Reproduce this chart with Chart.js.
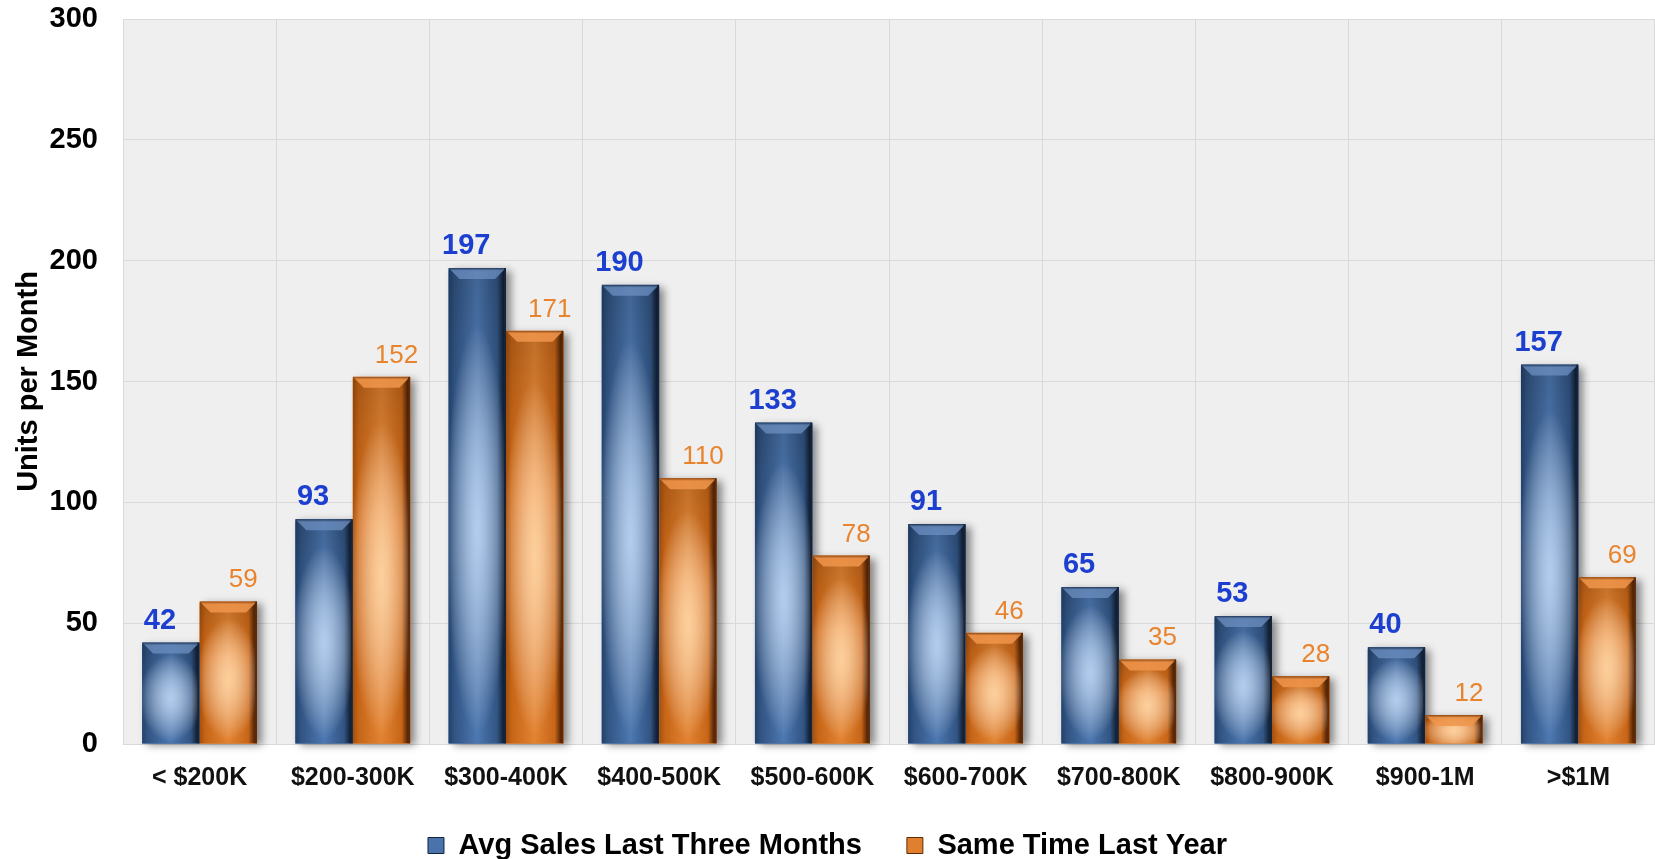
<!DOCTYPE html>
<html>
<head>
<meta charset="utf-8">
<script src="https://cdn.jsdelivr.net/npm/chart.js@4.4.1/dist/chart.umd.min.js"></script>
<style>
  html, body { margin: 0; padding: 0; background: #ffffff; }
  #wrap { width: 1655px; height: 859px; }
</style>
</head>
<body>
<div id="wrap"><canvas id="chart" width="1655" height="859"></canvas></div>
<script>
// Price bands and monthly unit sales
const categories = ['< $200K', '$200-300K', '$300-400K', '$400-500K', '$500-600K',
                    '$600-700K', '$700-800K', '$800-900K', '$900-1M', '>$1M'];
const avgSalesLastThreeMonths = [42, 93, 197, 190, 133, 91, 65, 53, 40, 157];
const sameTimeLastYear = [59, 152, 171, 110, 78, 46, 35, 28, 12, 69];
const yTickValues = [0, 50, 100, 150, 200, 250, 300];
const seriesNames = ['Avg Sales Last Three Months', 'Same Time Last Year'];

const FONT = "'Liberation Sans', Arial, Helvetica, sans-serif";
const PLOT_BOTTOM = 744;
const PAD_BOTTOM = -11;

// Glossy bar palettes
const palettes = [
  { base: '#3f6aa5', edgeL: '#26446c', side: '#335889', mid: '#517eba', edgeR: '#15243a',
    glow: 'rgba(188,214,244,0.9)', bevel: 'rgba(105,140,190,0.8)', topLine: '#1d3352',
    label: '#1c3fd0', labelFont: 'bold 29px ' + FONT, labelDx: -11, legend: '#4a72ab' },
  { base: '#e07a25', edgeL: '#a9530f', side: '#d06a18', mid: '#ee8a34', edgeR: '#5e2a08',
    glow: 'rgba(255,215,165,0.9)', bevel: 'rgba(240,150,75,0.85)', topLine: '#8a4210',
    label: '#e8842e', labelFont: '26px ' + FONT, labelDx: 15, legend: '#e0802f' }
];

// Light panel behind the plot
const plotBackground = {
  id: 'plotBackground',
  beforeDraw(chart) {
    const { ctx, chartArea: a } = chart;
    ctx.save();
    ctx.fillStyle = '#efefef';
    ctx.fillRect(a.left, a.top, a.right - a.left, a.bottom - a.top);
    ctx.restore();
  }
};

function barRect(el) {
  const p = el.getProps(['x', 'y', 'base', 'width'], true);
  return { L: p.x - p.width / 2, R: p.x + p.width / 2, T: Math.min(p.y, p.base), B: Math.max(p.y, p.base), x: p.x, w: p.width };
}

// Soft drop shadow on the right of every bar, then glossy shading on top of the library bars
const glossyBars = {
  id: 'glossyBars',
  beforeDatasetsDraw(chart) {
    const ctx = chart.ctx;
    chart.data.datasets.forEach((ds, di) => {
      const meta = chart.getDatasetMeta(di);
      meta.data.forEach(el => {
        const r = barRect(el);
        ctx.save();
        ctx.shadowColor = 'rgba(0,0,0,0.45)';
        ctx.shadowBlur = 8;
        ctx.shadowOffsetX = 5;
        ctx.shadowOffsetY = 1;
        ctx.fillStyle = palettes[di].base;
        ctx.fillRect(r.L, r.T + 2, r.w, r.B - r.T - 2);
        ctx.restore();
      });
    });
  },
  afterDatasetsDraw(chart) {
    const ctx = chart.ctx;
    chart.data.datasets.forEach((ds, di) => {
      const c = palettes[di];
      const meta = chart.getDatasetMeta(di);
      meta.data.forEach(el => {
        const { L, R, T, B, x, w } = barRect(el);
        const h = B - T;
        ctx.save();
        ctx.beginPath();
        ctx.rect(L, T, w, h);
        ctx.clip();
        // cylinder-like horizontal shading
        const g = ctx.createLinearGradient(L, 0, R, 0);
        g.addColorStop(0, c.edgeL);
        g.addColorStop(0.1, c.side);
        g.addColorStop(0.5, c.mid);
        g.addColorStop(0.85, c.side);
        g.addColorStop(0.95, c.edgeR);
        g.addColorStop(1, c.edgeR);
        ctx.fillStyle = g;
        ctx.fillRect(L, T, w, h);
        // darker towards the top
        const v = ctx.createLinearGradient(0, T, 0, B);
        v.addColorStop(0, 'rgba(0,0,0,0.2)');
        v.addColorStop(0.4, 'rgba(0,0,0,0)');
        v.addColorStop(1, 'rgba(0,0,0,0.05)');
        ctx.fillStyle = v;
        ctx.fillRect(L, T, w, h);
        // central glow
        const cy = T + h * 0.55;
        const rx = w * 0.55;
        const ry = Math.max(h * 0.43, rx * 0.6);
        ctx.save();
        ctx.translate(x, cy);
        ctx.scale(1, ry / rx);
        const rg = ctx.createRadialGradient(0, 0, 0, 0, 0, rx);
        rg.addColorStop(0, c.glow);
        rg.addColorStop(1, 'rgba(255,255,255,0)');
        ctx.fillStyle = rg;
        ctx.fillRect(-rx, -rx, 2 * rx, 2 * rx);
        ctx.restore();
        // bevelled top
        const b = Math.min(11, h * 0.4);
        ctx.beginPath();
        ctx.moveTo(L, T);
        ctx.lineTo(R, T);
        ctx.lineTo(R - b, T + b);
        ctx.lineTo(L + b, T + b);
        ctx.closePath();
        const bg = ctx.createLinearGradient(0, T, 0, T + b);
        bg.addColorStop(0, c.topLine);
        bg.addColorStop(0.25, c.bevel);
        bg.addColorStop(1, c.bevel);
        ctx.fillStyle = bg;
        ctx.fill();
        // right edge line
        ctx.fillStyle = c.edgeR;
        ctx.fillRect(R - 2, T, 2, h);
        ctx.restore();
      });
    });
  }
};

// Value labels above each bar
const valueLabels = {
  id: 'valueLabels',
  afterDatasetsDraw(chart) {
    const ctx = chart.ctx;
    ctx.save();
    ctx.textAlign = 'center';
    ctx.textBaseline = 'alphabetic';
    chart.data.datasets.forEach((ds, di) => {
      const c = palettes[di];
      const meta = chart.getDatasetMeta(di);
      ctx.font = c.labelFont;
      ctx.fillStyle = c.label;
      meta.data.forEach((el, i) => {
        const r = barRect(el);
        ctx.fillText(String(ds.data[i]), r.x + c.labelDx, r.T - 14);
      });
    });
    ctx.restore();
  }
};

const ctx = document.getElementById('chart').getContext('2d');
new Chart(ctx, {
  type: 'bar',
  data: {
    labels: categories,
    datasets: [
      { label: seriesNames[0], data: avgSalesLastThreeMonths, backgroundColor: palettes[0].base, borderWidth: 0 },
      { label: seriesNames[1], data: sameTimeLastYear, backgroundColor: palettes[1].base, borderWidth: 0 }
    ]
  },
  options: {
    responsive: false,
    animation: false,
    devicePixelRatio: 1,
    layout: { padding: { top: 19, right: 0, bottom: PAD_BOTTOM, left: 0 } },
    datasets: { bar: { categoryPercentage: 0.75, barPercentage: 1.0 } },
    scales: {
      x: {
        grid: { color: '#d9d9d9', lineWidth: 1, drawTicks: false, tickLength: 0, offset: true },
        border: { display: false },
        ticks: { color: '#111111', font: { family: FONT, size: 25, weight: 'bold' }, padding: 19, maxRotation: 0, autoSkip: false },
        afterFit(scale) {
          const lg = scale.chart.legend;
          scale.height = 859 - PAD_BOTTOM - PLOT_BOTTOM - (lg ? lg.height : 0);
        }
      },
      y: {
        min: 0,
        max: 300,
        afterBuildTicks(scale) { scale.ticks = yTickValues.map(v => ({ value: v })); },
        grid: { color: '#d9d9d9', lineWidth: 1, drawTicks: false, tickLength: 0 },
        border: { display: false },
        ticks: { color: '#000000', font: { family: FONT, size: 29, weight: 'bold' }, padding: 25 },
        title: {
          display: true,
          text: 'Units per Month',
          color: '#000000',
          font: { family: FONT, size: 29, weight: 'bold' },
          padding: { top: 12, bottom: 0 }
        },
        afterFit(scale) {
          scale.width = 123;
          scale.paddingTop = 0;
          scale.paddingBottom = 0;
        }
      }
    },
    plugins: {
      legend: {
        position: 'bottom',
        labels: {
          color: '#000000',
          font: { family: FONT, size: 29, weight: 'bold' },
          boxWidth: 16,
          boxHeight: 16,
          padding: 45,
          generateLabels(chart) {
            return chart.data.datasets.map((ds, i) => ({
              text: ds.label,
              fillStyle: palettes[i].legend,
              strokeStyle: palettes[i].edgeR,
              lineWidth: 1,
              datasetIndex: i,
              hidden: false,
              fontColor: '#000000'
            }));
          }
        }
      },
      tooltip: { enabled: false }
    }
  },
  plugins: [plotBackground, glossyBars, valueLabels]
});
</script>
</body>
</html>
